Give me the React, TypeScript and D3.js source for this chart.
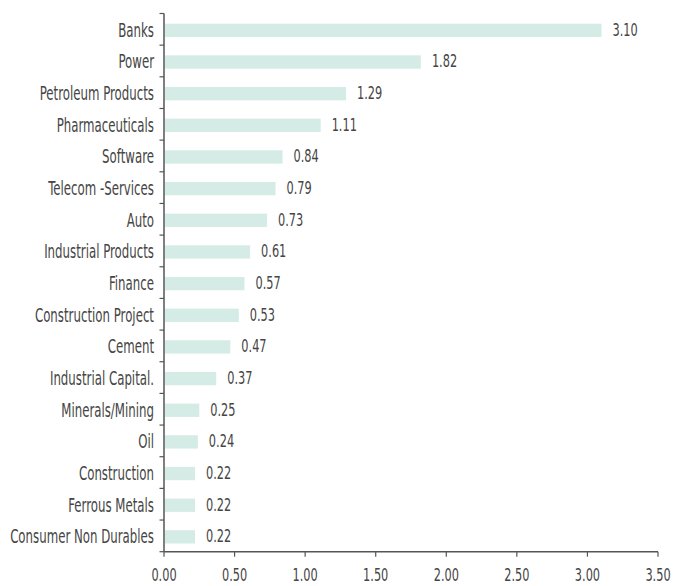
import React from "react";
import * as d3 from "d3";

const categories = [
  "Banks",
  "Power",
  "Petroleum Products",
  "Pharmaceuticals",
  "Software",
  "Telecom -Services",
  "Auto",
  "Industrial Products",
  "Finance",
  "Construction Project",
  "Cement",
  "Industrial Capital.",
  "Minerals/Mining",
  "Oil",
  "Construction",
  "Ferrous Metals",
  "Consumer Non Durables",
];
const values = [3.1, 1.82, 1.29, 1.11, 0.84, 0.79, 0.73, 0.61, 0.57, 0.53, 0.47, 0.37, 0.25, 0.24, 0.22, 0.22, 0.22];
const xTicks = [0, 0.5, 1, 1.5, 2, 2.5, 3, 3.5];

const W = 674;
const H = 586;
const left = 164;
const right = 658;
const top = 13.5;
const bottom = 551.7;
const FONT = "'DejaVu Sans Condensed', 'Liberation Sans Narrow', sans-serif";
const TEXT = "#454545";
const AXIS = "#555555";
const BAR = "#d5ebe5";

function NarrowText(props: { x: number; y: number; sx: number; size: number; anchor?: string; children: React.ReactNode }) {
  return (
    <g transform={`translate(${props.x},${props.y}) scale(${props.sx},1)`}>
      <text x={0} y={0} dy="0.36em" fontSize={props.size} fill={TEXT} textAnchor={props.anchor || "start"}>
        {props.children}
      </text>
    </g>
  );
}

export default function App() {
  const x = d3.scaleLinear().domain([0, 3.5]).range([left, right]);
  const y = d3.scaleBand<string>().domain(categories).range([top, bottom]).paddingInner(0.58).paddingOuter(0.29);
  const band = (bottom - top) / categories.length;
  const tickYs = d3.range(categories.length + 1).map((i) => top + i * band);

  return (
    <svg width={W} height={H} style={{ position: "absolute", left: 0, top: 0, background: "#fff" }} fontFamily={FONT}>
      {categories.map((c, i) => {
        const v = values[i];
        const by = (y(c) as number) + 1;
        const bh = y.bandwidth();
        const cy = by + bh / 2;
        return (
          <g key={c}>
            <rect x={x(0) + 1} y={by} width={x(v) - x(0) - 1} height={bh} fill={BAR} />
            <NarrowText x={x(v) + 11} y={cy - 1} sx={0.72} size={17.5}>
              {d3.format(".2f")(v)}
            </NarrowText>
            <NarrowText x={154} y={cy - 0.5} sx={0.69} size={19} anchor="end">
              {c}
            </NarrowText>
          </g>
        );
      })}
      {/* y axis */}
      <line x1={left} x2={left} y1={top} y2={bottom} stroke={AXIS} strokeWidth={1.5} />
      {tickYs.map((t, i) => (
        <line key={i} x1={left - 4.5} x2={left} y1={t} y2={t} stroke={AXIS} strokeWidth={1.2} />
      ))}
      {/* x axis */}
      <line x1={left} x2={right} y1={bottom} y2={bottom} stroke={AXIS} strokeWidth={1.5} />
      {xTicks.map((t) => (
        <g key={t}>
          <line x1={x(t)} x2={x(t)} y1={bottom} y2={bottom + 5} stroke={AXIS} strokeWidth={1.2} />
          <NarrowText x={x(t)} y={575} sx={0.7} size={18} anchor="middle">
            {d3.format(".2f")(t)}
          </NarrowText>
        </g>
      ))}
    </svg>
  );
}
